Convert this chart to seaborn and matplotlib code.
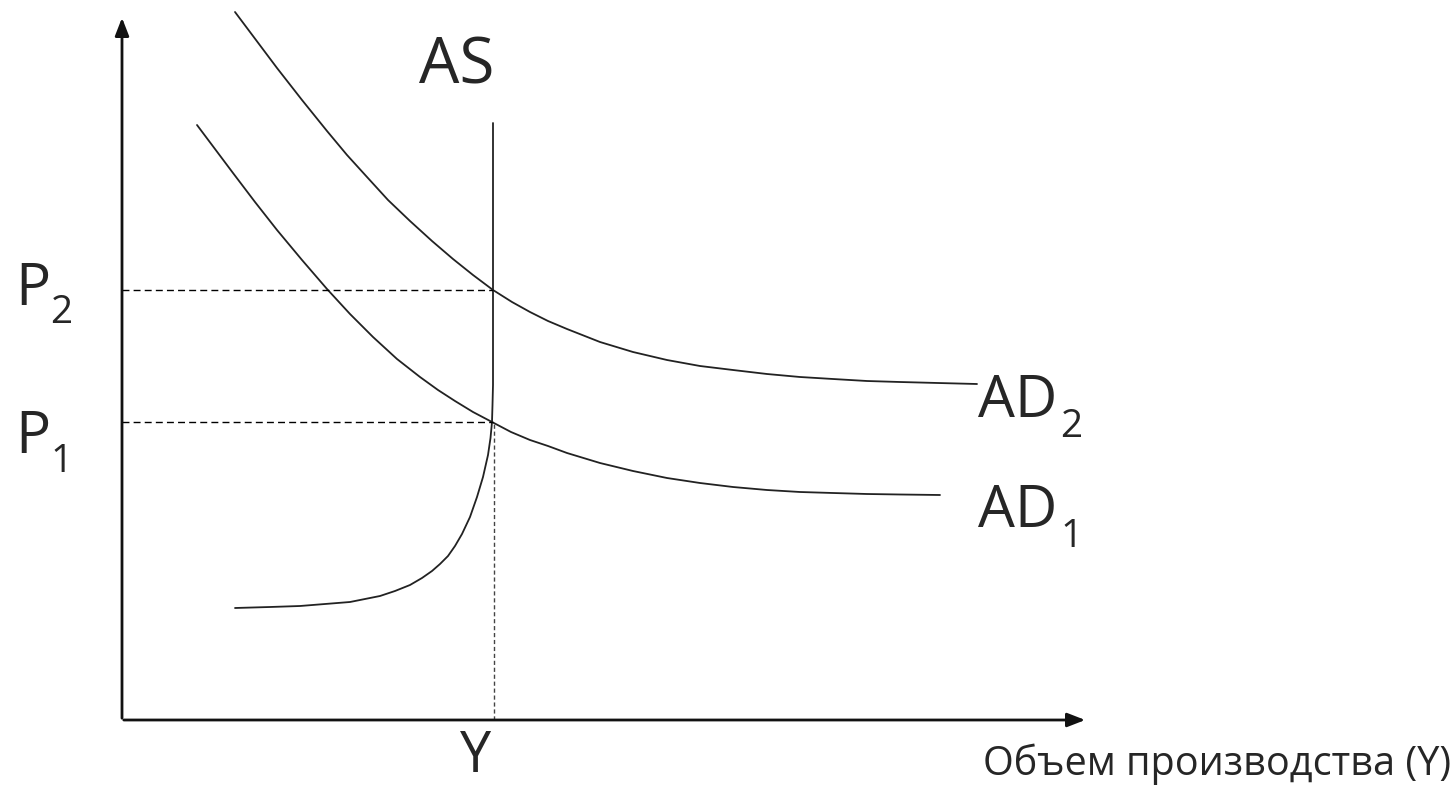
import numpy as np
import pandas as pd
import matplotlib
matplotlib.use('Agg')
import matplotlib.pyplot as plt
import seaborn as sns

# points (origin = axis corner, 1 unit ~ 1 px)
ad1_x = [75, 93, 111, 133, 155, 180, 205, 228, 251, 275, 298, 316, 333, 351, 370,
         389, 408, 426, 445, 478, 511, 545, 578, 611, 645, 678, 711, 745, 778, 818]
ad1_y = [595, 571, 547, 518, 490, 460, 431, 406, 383, 361, 343, 330, 319, 308, 298,
         288, 280, 274, 267, 257, 249, 242, 237, 233, 230, 228, 227, 226, 225.5, 225]

ad2_x = [113, 134, 155, 180, 205, 225, 245, 266, 288, 310, 331, 351, 371, 390, 408,
         426, 445, 478, 511, 545, 578, 611, 645, 678, 711, 745, 778, 816, 855]
ad2_y = [708, 680, 652, 620, 589, 565, 543, 520, 499, 479, 461, 445, 430, 418, 408,
         399, 391, 378, 368, 360, 354, 350, 346, 343, 341, 339, 338, 337, 336]

as_x = [371, 371, 370.5, 370, 368.5, 366, 361, 355, 348, 340, 333, 326, 318, 310, 300,
        288, 273, 258, 243, 228, 203, 178, 148, 113]
as_y = [597, 335, 315, 298, 282, 265, 243, 223, 203, 186, 174, 164, 156, 149, 142,
        135, 129, 124, 121, 118, 116, 114, 113, 112]

y_eq = 371
p1 = 298
p2 = 430
x_max = 966
y_max = 705

sns.set_theme(style='white')
plt.rcParams['font.family'] = ['Open Sans', 'DejaVu Sans']

fig = plt.figure(figsize=(14.55, 7.9), dpi=100)
ax = fig.add_axes([0, 0, 1, 1])

curves = pd.concat([
    pd.DataFrame({'x': ad1_x, 'y': ad1_y, 'curve': 'AD1'}),
    pd.DataFrame({'x': ad2_x, 'y': ad2_y, 'curve': 'AD2'}),
    pd.DataFrame({'x': as_x, 'y': as_y, 'curve': 'AS'}),
])
sns.lineplot(data=curves, x='x', y='y', units='curve', estimator=None, sort=False,
             color='#222222', lw=1.3, legend=False, ax=ax)

# dashed guide lines
ax.plot([0, y_eq], [p2, p2], ls=(0, (5, 3)), color='black', lw=1)
ax.plot([0, y_eq], [p1, p1], ls=(0, (5, 3)), color='black', lw=1)
ax.plot([y_eq + 1, y_eq + 1], [0, p1], ls=(0, (3, 2)), color='#444444', lw=1)

# axes with arrows
ax.annotate('', xy=(x_max, 0), xytext=(-1, 0),
            arrowprops=dict(arrowstyle='-|>,head_length=0.9,head_width=0.35', color='#111111', lw=2))
ax.annotate('', xy=(0, y_max), xytext=(0, -1),
            arrowprops=dict(arrowstyle='-|>,head_length=0.9,head_width=0.35', color='#111111', lw=2))

big = 42
sub = 28
ax.text(335, 637, 'AS', fontsize=46, ha='center', va='baseline')
ax.text(-107, p2 - 15, 'P', fontsize=big, ha='left', va='baseline')
ax.text(-72, p2 - 33, '2', fontsize=sub, ha='left', va='baseline')
ax.text(-107, p1 - 31, 'P', fontsize=big, ha='left', va='baseline')
ax.text(-72, p1 - 50, '1', fontsize=sub, ha='left', va='baseline')
ax.text(856, 303, 'AD', fontsize=big, ha='left', va='baseline')
ax.text(938, 283, '2', fontsize=sub, ha='left', va='baseline')
ax.text(856, 193, 'AD', fontsize=big, ha='left', va='baseline')
ax.text(938, 173, '1', fontsize=sub, ha='left', va='baseline')
ax.text(354, -52, 'Y', fontsize=40, ha='center', va='baseline')
ax.text(861, -55, 'Объем производства (Y)', fontsize=28.5, ha='left', va='baseline')

ax.set_xlim(-122, 1333)
ax.set_ylim(-70, 720)
ax.set_axis_off()

plt.savefig('out.png', dpi=100)
